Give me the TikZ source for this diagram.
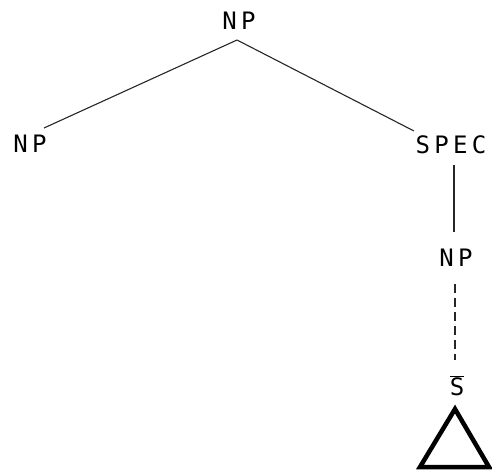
\documentclass[tikz,border=0pt]{standalone}
\usepackage{fontspec}
\newfontfamily\labelfont[LetterSpace=18]{DejaVu Sans Mono}
\begin{document}
\begin{tikzpicture}[x=1pt,y=-1pt,
  cat/.style={font=\labelfont\fontsize{24}{28}\selectfont, inner sep=0pt, anchor=center},
  branch/.style={line width=1.1pt, black!85},
  dashbranch/.style={line width=1.1pt, black!85, dash pattern=on 9pt off 5pt},
  tri/.style={line width=4.5pt, line join=miter}]
\useasboundingbox (0,0) rectangle (492,472);
\node[cat] (top) at (239,21) {NP};
\coordinate (j) at (237,40);
\node[cat] (left) at (30,144) {NP};
\coordinate (lt) at (44,128);
\node[cat] (spec) at (451,145) {SPEC};
\coordinate (rt) at (414,131);
\coordinate (sb) at (454,165);
\coordinate (se) at (454,232);
\node[cat] (np2) at (456,258) {NP};
\coordinate (db) at (455,284);
\coordinate (de) at (455,360);
\node[cat] (sbar) at (457,386) {$\overline{\hbox{S}}$};
\coordinate (apex) at (455,409);
\coordinate (bl) at (420,467);
\coordinate (br) at (489,467);
\draw[branch] (j) -- (lt);
\draw[branch] (j) -- (rt);
\draw[branch] (sb) -- (se);
\draw[dashbranch] (db) -- (de);
\draw[tri] (apex) -- (bl) -- (br) -- cycle;
\end{tikzpicture}
\end{document}
